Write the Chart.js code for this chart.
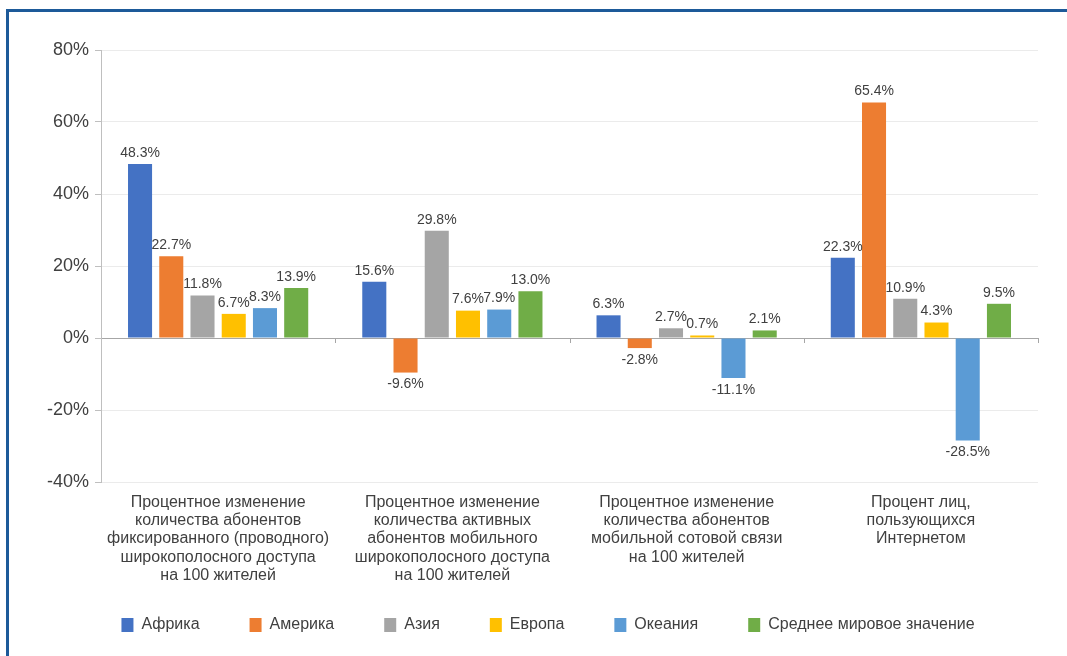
<!DOCTYPE html>
<html>
<head>
<meta charset="utf-8">
<script src="https://cdn.jsdelivr.net/npm/chart.js@4"></script>
<style>
  html, body { margin: 0; padding: 0; background: #ffffff; }
  #frame { position: absolute; left: 6px; top: 9px; width: 1061px; height: 647px;
           border-left: 3px solid #1d5a99; border-top: 3px solid #1d5a99; box-sizing: border-box; }
  #wrap { position: absolute; left: 0; top: 0; width: 1067px; height: 656px; }
</style>
</head>
<body>
<div id="frame"></div>
<div id="wrap"><canvas id="c" width="1067" height="656"></canvas></div>
<script>
const categories = [
  ["Процентное изменение", "количества абонентов", "фиксированного (проводного)", "широкополосного доступа", "на 100 жителей"],
  ["Процентное изменение", "количества активных", "абонентов мобильного", "широкополосного доступа", "на 100 жителей"],
  ["Процентное изменение", "количества абонентов", "мобильной сотовой связи", "на 100 жителей"],
  ["Процент лиц,", "пользующихся", "Интернетом"]
];
const seriesNames = ["Африка", "Америка", "Азия", "Европа", "Океания", "Среднее мировое значение"];
const africa  = [48.3, 15.6, 6.3, 22.3];
const america = [22.7, -9.6, -2.8, 65.4];
const asia    = [11.8, 29.8, 2.7, 10.9];
const europe  = [6.7, 7.6, 0.7, 4.3];
const oceania = [8.3, 7.9, -11.1, -28.5];
const world   = [13.9, 13.0, 2.1, 9.5];
const yTicks  = [-40, -20, 0, 20, 40, 60, 80];
const colors  = ["#4472c4", "#ed7d31", "#a5a5a5", "#ffc000", "#5b9bd5", "#70ad47"];

const seriesValues = [africa, america, asia, europe, oceania, world];
const FONT = "'Liberation Sans', Arial, sans-serif";
const TEXT = "#404040";

const valueLabels = {
  id: 'valueLabels',
  afterDatasetsDraw(chart) {
    const ctx = chart.ctx;
    ctx.save();
    ctx.font = "14px " + FONT;
    ctx.fillStyle = TEXT;
    ctx.textAlign = 'center';
    chart.data.datasets.forEach((ds, di) => {
      const meta = chart.getDatasetMeta(di);
      meta.data.forEach((el, i) => {
        const v = ds.data[i];
        const t = v.toFixed(1) + '%';
        if (v >= 0) {
          ctx.textBaseline = 'bottom';
          ctx.fillText(t, el.x, el.y - 4);
        } else {
          ctx.textBaseline = 'top';
          ctx.fillText(t, el.x, el.y + 5);
        }
      });
    });
    ctx.restore();
  }
};

const boundaryTicks = {
  id: 'boundaryTicks',
  afterDraw(chart) {
    const x = chart.scales.x, y = chart.scales.y;
    const ctx = chart.ctx;
    const zy = y.getPixelForValue(0);
    const n = chart.data.labels.length;
    ctx.save();
    ctx.strokeStyle = '#a6a6a6';
    ctx.lineWidth = 1;
    for (let i = 1; i <= n; i++) {
      const px = Math.round(x.left + i * (x.right - x.left) / n) + 0.5;
      ctx.beginPath();
      ctx.moveTo(px, zy);
      ctx.lineTo(px, zy + 5);
      ctx.stroke();
    }
    ctx.restore();
  }
};

// nudge the legend box so it sits centred under the frame, a little closer to the axis labels
const legendShift = {
  id: 'legendShift',
  afterLayout(chart) {
    const l = chart.legend;
    if (!l) return;
    l.left += 29; l.right += 29;
    l.top -= 13; l.bottom -= 13;
  }
};

new Chart(document.getElementById('c'), {
  type: 'bar',
  data: {
    labels: categories,
    datasets: seriesNames.map((name, i) => ({
      label: name,
      data: seriesValues[i],
      backgroundColor: colors[i],
      borderWidth: 0,
      categoryPercentage: 0.8,
      barPercentage: 0.77
    }))
  },
  options: {
    responsive: false,
    animation: false,
    devicePixelRatio: 1,
    layout: { padding: { left: 0, right: 29, top: 50, bottom: 0 } },
    plugins: {
      tooltip: { enabled: false },
      legend: {
        position: 'bottom',
        labels: {
          boxWidth: 12,
          boxHeight: 14,
          padding: 50,
          color: TEXT,
          font: { family: FONT, size: 16 }
        }
      }
    },
    scales: {
      x: {
        grid: { display: false },
        border: { display: false },
        ticks: {
          color: TEXT,
          font: { family: FONT, size: 16, lineHeight: 1.15 },
          padding: 3,
          maxRotation: 0,
          autoSkip: false
        },
        afterFit(scale) { scale.height = 98; }
      },
      y: {
        min: -40,
        max: 80,
        afterBuildTicks(scale) { scale.ticks = yTicks.map(v => ({ value: v })); },
        grid: {
          color: (c) => (c.tick && c.tick.value === 0) ? '#a6a6a6' : '#ebebeb',
          tickColor: '#bfbfbf',
          tickLength: 6
        },
        border: { display: true, color: '#bfbfbf' },
        ticks: {
          color: TEXT,
          font: { family: FONT, size: 18 },
          padding: 6,
          callback: (v) => v + '%'
        },
        afterFit(scale) { scale.width = 101; }
      }
    }
  },
  plugins: [valueLabels, boundaryTicks, legendShift]
});
</script>
</body>
</html>
